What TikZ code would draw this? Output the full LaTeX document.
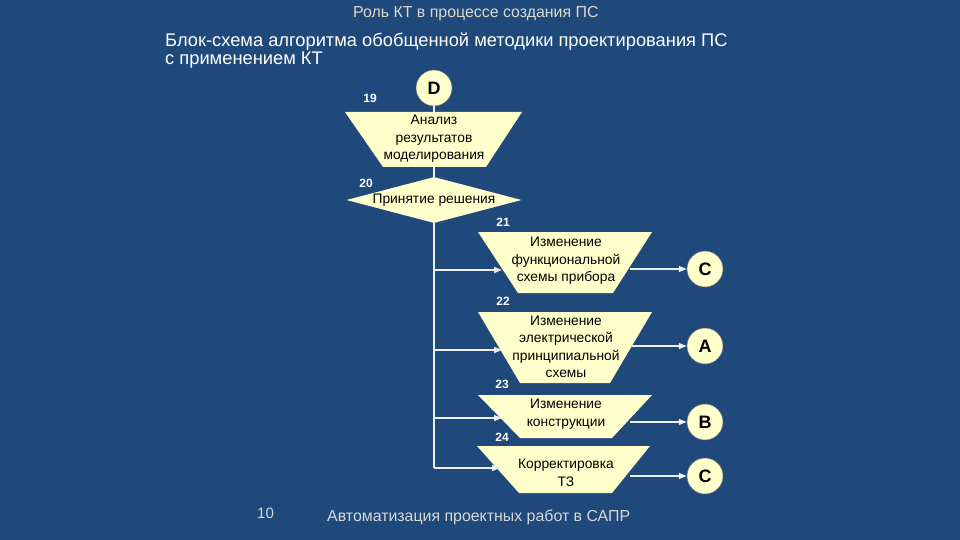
\documentclass[tikz,border=0pt]{standalone}
\usepackage{fontspec}
\setmainfont{Liberation Sans}
\usetikzlibrary{shapes.geometric,arrows.meta}
\definecolor{bg}{RGB}{31,73,123}
\definecolor{cream}{RGB}{255,255,204}
\definecolor{linec}{RGB}{238,238,238}
\definecolor{toptxt}{RGB}{222,216,200}
\definecolor{foottxt}{RGB}{215,215,215}
\tikzset{
  shapefill/.style={fill=cream},
  shapetext/.style={align=center,text=black,inner sep=0pt,font=\fontsize{13.8}{17.5}\selectfont},
  conn/.style={draw=linec,line width=1.4pt},
  arr/.style={conn,-{Triangle[length=8pt,width=6pt,fill=linec]}},
  numlbl/.style={text=white,font=\fontsize{12}{12}\selectfont\bfseries,inner sep=0pt},
  conncirc/.style={circle,fill=cream,draw=black!55,line width=0.5pt,minimum size=36pt,inner sep=0pt,font=\fontsize{18}{18}\selectfont\bfseries,text=black},
}
\begin{document}
\begin{tikzpicture}[x=1pt,y=-1pt]
\fill[bg] (0,0) rectangle (960,540);
\useasboundingbox (0,0) rectangle (960,540);
% titles
\node[text=toptxt,font=\fontsize{15.9}{16}\selectfont,anchor=base west,inner sep=0pt] (top) at (353,18) {Роль КТ в процессе создания ПС};
\node[text=white,font=\fontsize{18.3}{18}\selectfont,anchor=base west,inner sep=0pt] (title1) at (165,47) {Блок-схема алгоритма обобщенной методики проектирования ПС};
\node[text=white,font=\fontsize{18.3}{18}\selectfont,anchor=base west,inner sep=0pt] (title2) at (165,65) {с применением КТ};
% footer
\node[text=foottxt,font=\fontsize{15}{15}\selectfont,anchor=base west,inner sep=0pt] (pg) at (257,518) {10};
\node[text=foottxt,font=\fontsize{15.9}{16}\selectfont,anchor=base west,inner sep=0pt] (foot) at (327,521) {Автоматизация проектных работ в САПР};
% shapes
\fill[shapefill] (345,112) -- (522,112) -- (486,167) -- (383,167) -- cycle;
\fill[shapefill] (478,232) -- (652,232) -- (613,293) -- (518,293) -- cycle;
\fill[shapefill] (478,312) -- (652,312) -- (610,383) -- (520,383) -- cycle;
\fill[shapefill] (478,395) -- (652,395) -- (612,438) -- (520,438) -- cycle;
\fill[shapefill] (477,446) -- (650,446) -- (612,493) -- (519,493) -- cycle;
\node[shapetext] (t1) at (434,139) {Анализ\\результатов\\моделирования};
\node[shapetext] (t21) at (566,261) {Изменение\\функциональной\\схемы прибора};
\node[shapetext] (t22) at (566,347) {Изменение\\электрической\\принципиальной\\схемы};
\node[shapetext] (t23) at (566,414) {Изменение\\конструкции};
\node[shapetext] (t24) at (566,473) {Корректировка\\ТЗ};
\node[diamond,fill=cream,inner sep=0pt,minimum width=175pt,minimum height=46pt,aspect=3.8,text=black,font=\fontsize{13.8}{14}\selectfont] (dia) at (434,200) {Принятие решения};
% connectors circles
\node[conncirc] (D) at (434,88) {D};
\node[conncirc] (C1) at (705,269) {C};
\node[conncirc] (A) at (705,346) {A};
\node[conncirc] (B) at (705,422) {B};
\node[conncirc] (C2) at (705,476) {C};
% numbers
\node[numlbl] (n19) at (370,98) {19};
\node[numlbl] (n20) at (366,183) {20};
\node[numlbl] (n21) at (503,222) {21};
\node[numlbl] (n22) at (503,301) {22};
\node[numlbl] (n23) at (502,384) {23};
\node[numlbl] (n24) at (502,437) {24};
% coordinates
\coordinate (t1top) at (434,112);
\coordinate (t1bot) at (434,167);
\coordinate (b21) at (434,270);
\coordinate (b22) at (434,350);
\coordinate (b23) at (434,418);
\coordinate (b24) at (434,468);
\coordinate (i21) at (502,270);
\coordinate (i22) at (502,350);
\coordinate (i23) at (502,418);
\coordinate (i24) at (500,468);
\coordinate (o21) at (630,269);
\coordinate (o22) at (631,346);
\coordinate (o23) at (630,422);
\coordinate (o24) at (630,476);
% lines
\draw[conn] (D) -- (t1top);
\draw[conn] (t1bot) -- (dia);
\draw[conn] (dia.south) -- (b24);
\draw[arr] (b21) -- (i21);
\draw[arr] (b22) -- (i22);
\draw[arr] (b23) -- (i23);
\draw[arr] (b24) -- (i24);
\draw[arr] (o21) -- (C1);
\draw[arr] (o22) -- (A);
\draw[arr] (o23) -- (B);
\draw[arr] (o24) -- (C2);
\end{tikzpicture}
\end{document}
